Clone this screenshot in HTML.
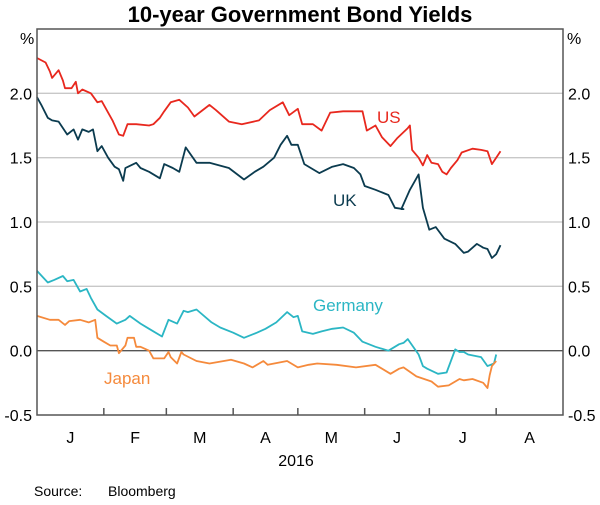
<!DOCTYPE html>
<html><head><meta charset="utf-8"><style>
body{margin:0;background:#fff;font-family:"Liberation Sans",Arial,sans-serif}
svg text{font-family:"Liberation Sans",Arial,sans-serif}
</style></head><body>
<svg id="c" width="600" height="500" viewBox="0 0 600 500">
<text x="300" y="22" text-anchor="middle" font-size="22" font-weight="bold" fill="#000">10-year Government Bond Yields</text>
<g id="grid"></g><g id="series"></g><g id="axes"></g>
<text x="34" y="496" font-size="14" fill="#000">Source:</text>
<text x="108" y="496" font-size="14" fill="#000">Bloomberg</text>
</svg>
<script>
const monthLabels=["J","F","M","A","M","J","J","A"];
const monthStarts=[0,31,60,91,121,152,182,213,244];
const yTicks=[-0.5,0,0.5,1.0,1.5,2.0];
const usDays=[0,4,6,7,10,12,13,16,18,19,21,25,28,30,33,35,38,40,42,46,52,54,57,59,62,66,70,73,80,83,89,95,103,108,114,117,121,123,128,132,136,142,147,151,153,157,160,164,167,172,173,174,177,179,181,183,186,188,190,192,195,196,197,202,206,209,211,213,215];
const usVals=[2.275,2.24,2.17,2.12,2.18,2.10,2.04,2.04,2.09,2.00,2.03,2.00,1.93,1.94,1.85,1.79,1.68,1.67,1.76,1.76,1.75,1.76,1.81,1.86,1.93,1.95,1.89,1.82,1.91,1.87,1.78,1.76,1.79,1.87,1.93,1.83,1.88,1.76,1.76,1.71,1.85,1.86,1.86,1.86,1.71,1.75,1.66,1.59,1.65,1.73,1.75,1.56,1.50,1.44,1.52,1.46,1.45,1.39,1.37,1.42,1.48,1.51,1.54,1.57,1.56,1.55,1.45,1.50,1.55];
const ukDays=[0,2,5,7,10,14,17,19,21,24,26,28,30,33,36,38,40,41,46,48,52,57,59,63,66,69,74,80,89,96,101,105,110,113,116,118,121,124,131,137,142,147,150,152,157,163,166,170,169,173,177,179,182,185,189,194,198,200,204,206,207,209,211,213,215];
const ukVals=[1.97,1.91,1.81,1.79,1.78,1.68,1.72,1.64,1.72,1.70,1.72,1.55,1.59,1.50,1.43,1.41,1.32,1.42,1.46,1.42,1.39,1.34,1.45,1.42,1.39,1.58,1.46,1.46,1.42,1.33,1.39,1.43,1.50,1.60,1.67,1.60,1.60,1.45,1.38,1.43,1.45,1.42,1.37,1.28,1.25,1.21,1.11,1.10,1.10,1.25,1.37,1.11,0.94,0.96,0.87,0.83,0.76,0.77,0.83,0.81,0.80,0.79,0.72,0.75,0.82];
const deDays=[0,5,8,12,14,17,20,23,25,28,32,37,41,43,48,52,58,61,65,68,70,74,81,85,91,96,102,106,111,116,119,121,123,128,132,137,142,147,151,157,163,168,170,172,177,179,181,186,190,194,196,198,200,206,209,212,213];
const deVals=[0.62,0.53,0.55,0.58,0.54,0.55,0.46,0.48,0.41,0.32,0.27,0.21,0.24,0.27,0.21,0.17,0.11,0.24,0.21,0.31,0.30,0.32,0.22,0.18,0.14,0.10,0.14,0.17,0.22,0.30,0.26,0.27,0.15,0.13,0.15,0.17,0.18,0.14,0.07,0.03,0.00,0.05,0.06,0.09,-0.03,-0.12,-0.14,-0.18,-0.17,0.01,-0.01,-0.01,-0.03,-0.05,-0.12,-0.10,-0.03];
const jpDays=[0,6,10,13,15,20,24,27,28,31,34,37,38,41,42,45,46,48,52,54,59,61,62,65,67,68,74,80,90,96,100,105,107,116,121,126,130,139,148,157,164,168,170,176,183,186,191,196,198,202,207,209,210,211,213];
const jpVals=[0.27,0.24,0.24,0.20,0.23,0.24,0.22,0.24,0.10,0.07,0.04,0.04,-0.02,0.04,0.10,0.10,0.03,0.03,0.00,-0.06,-0.06,-0.01,-0.05,-0.10,-0.01,-0.03,-0.08,-0.10,-0.07,-0.10,-0.13,-0.08,-0.11,-0.08,-0.13,-0.11,-0.10,-0.11,-0.13,-0.11,-0.18,-0.14,-0.13,-0.20,-0.24,-0.28,-0.27,-0.22,-0.23,-0.22,-0.25,-0.29,-0.19,-0.12,-0.08];
const NS="http://www.w3.org/2000/svg";
const L=37,R=563,T=29,B=415,yMin=-0.5,yMax=2.5,dMax=244;
const xS=d=>L+d/dMax*(R-L);
const yS=v=>B-(v-yMin)/(yMax-yMin)*(B-T);
function mk(tag,attrs,parent){const e=document.createElementNS(NS,tag);for(const k in attrs)e.setAttribute(k,attrs[k]);parent.appendChild(e);return e;}
const grid=document.getElementById('grid'),ser=document.getElementById('series'),ax=document.getElementById('axes');
yTicks.forEach(v=>{
  if(v>yMin){const g=mk('line',{x1:L,x2:R,y1:yS(v),y2:yS(v),stroke:v===0?'#555':'#c8c8c8','stroke-width':1.3},grid);
  
  }
  const lab=v.toFixed(1);
  const t1=mk('text',{x:L-5,y:yS(v)+6,'text-anchor':'end','font-size':16,fill:'#000'},ax);t1.textContent=lab;
  
  
  const t2=mk('text',{x:R+5,y:yS(v)+6,'text-anchor':'start','font-size':16,fill:'#000'},ax);t2.textContent=lab;
  
  
});
const fr=mk('rect',{x:L,y:T,width:R-L,height:B-T,fill:'none',stroke:'#555','stroke-width':1.5},ax);


monthStarts.forEach((d,i)=>{
  if(i>0&&i<monthStarts.length-1){const tk=mk('line',{x1:xS(d),x2:xS(d),y1:B,y2:B-7,stroke:'#555','stroke-width':1.5},ax);
  
  }
  if(i<monthLabels.length){const t=mk('text',{x:xS((d+monthStarts[i+1])/2),y:443,'text-anchor':'middle','font-size':16,fill:'#000'},ax);t.textContent=monthLabels[i];
  
  }
});
const yr=mk('text',{x:296,y:466,'text-anchor':'middle','font-size':16,fill:'#000'},ax);yr.textContent='2016';


[[20,'start'],[567,'start']].forEach(([x,a],i)=>{const p=mk('text',{x:x,y:44,'font-size':16,fill:'#000'},ax);p.textContent='%';

});
function line(days,vals,color,name,lbl,lx,ly){
  const d=days.map((dd,i)=>(i?'L':'M')+xS(dd).toFixed(1)+','+yS(vals[i]).toFixed(1)).join('');
  const p=mk('path',{d:d,fill:'none',stroke:color,'stroke-width':1.8,'stroke-linejoin':'round'},ser);
  
  
  const t=mk('text',{x:lx,y:ly,'font-size':17,fill:color},ser);t.textContent=lbl;
  
  
}
line(usDays,usVals,'#e8281e','us','US',377,123);
line(ukDays,ukVals,'#0b3b4f','uk','UK',333,206);
line(deDays,deVals,'#2bb6c4','germany','Germany',313,311);
line(jpDays,jpVals,'#f58a3c','japan','Japan',104,384);
</script>
</body></html>
